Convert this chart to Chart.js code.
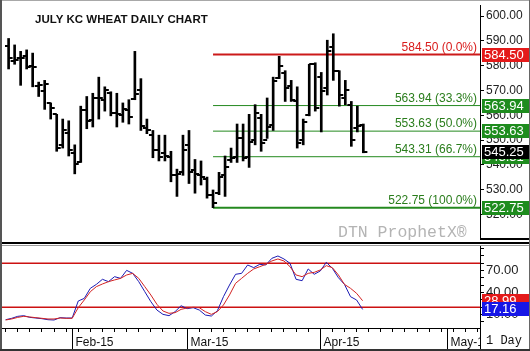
<!DOCTYPE html>
<html>
<head>
<meta charset="utf-8">
<script src="https://cdn.jsdelivr.net/npm/chart.js@4.4.1/dist/chart.umd.min.js"></script>
<style>
  html, body { margin: 0; padding: 0; background: #fff; }
  #wrap { position: relative; width: 530px; height: 351px; overflow: hidden; background: #fff; }
  #wrap canvas { position: absolute; left: 0; }
  #priceChart { top: 0; }
  #stochChart { top: 246px; }
  .ln { position: absolute; }
</style>
</head>
<body>
<div id="wrap">
  <canvas id="priceChart" width="530" height="242"></canvas>
  <canvas id="stochChart" width="530" height="103"></canvas>
  <!-- panel separators and frame -->
  <div class="ln" style="left:0;top:242px;width:530px;height:2px;background:#000"></div>
  <div class="ln" style="left:480px;top:238px;width:50px;height:2px;background:#000"></div>
  <div class="ln" style="left:0;top:245px;width:530px;height:1px;background:#9c9c9c"></div>
  <div class="ln" style="left:0;top:0;width:530px;height:1px;background:#a8a8a8"></div>
  <div class="ln" style="left:0;top:0;width:2px;height:351px;background:#555"></div>
  <div class="ln" style="left:529px;top:0;width:1px;height:351px;background:#666"></div>
  <div class="ln" style="left:0;top:349px;width:530px;height:2px;background:#333"></div>
</div>
<script>
// trading days, Jan 15 - Apr 13 2015
const dates = ['01-15','01-16','01-20','01-21','01-22','01-23','01-26','01-27','01-28','01-29',
  '01-30','02-02','02-03','02-04','02-05','02-06','02-09','02-10','02-11','02-12',
  '02-13','02-17','02-18','02-19','02-20','02-23','02-24','02-25','02-26','02-27',
  '03-02','03-03','03-04','03-05','03-06','03-09','03-10','03-11','03-12','03-13',
  '03-16','03-17','03-18','03-19','03-20','03-23','03-24','03-25','03-26','03-27',
  '03-30','03-31','04-01','04-02','04-06','04-07','04-08','04-09','04-10','04-13'];

const opens = [588,582,583,584,580, 572,570,565,560.4,548, 553,545,541,562,558,
  567,566,569,561,560, 562,566.5,570.2,555,552, 546,545,543,536,537,
  548,538,536,534.5,528, 528.5,536,542,543,551, 543,550,559,550,556,
  575,577,572,565.6,550, 560,580.6,575.4,571,587.7, 578,567,564.3,555,556];
const highs = [591.0,588.4,585.8,586.4,585.1, 573.4,574.1,565.0,560.4,558.5,
  557.8,548.1,563.7,567.6,568.9, 575.4,571.5,569.5,568.9,565.0,
  566.3,585.8,574.8,558.5,553.9, 552.0,552.0,545.5,538.3,552.0,
  553.9,542.2,541.6,535.1,529.9, 537.0,543.6,546.8,556.5,556.5,
  560.4,564.3,560.4,567.0,575.4, 583.8,578.0,574.1,571.5,558.5,
  580.6,581.2,577.3,590.3,592.9, 578.0,574.1,565.6,563.7,556.5];
const lows = [578.7,580.6,572.1,578.7,571.5, 567.6,562.4,558.5,545.5,546.8,
  543.6,536.4,541.0,554.6,555.3, 558.5,561.7,559.8,555.3,557.2,
  556.5,566.3,553.9,552.6,542.9, 541.6,541.6,533.2,527.3,535.8,
  532.5,528.6,531.9,526.6,522.75, 528.0,527.3,541.0,541.0,541.6,
  539.0,548.1,545.5,550.7,553.9, 574.8,565.6,565.6,546.8,548.1,
  559.8,561.7,553.3,568.2,574.1, 563.7,564.3,547.5,553.3,544.9];
const closes = [583.2,582.5,583.2,579.3,579.3, 572.1,572.8,563.1,547,553.9,
  546.1,540.3,562,557.8,567, 567,570.2,561.1,560.4,562.4,
  559.3,568.5,555.9,554,546, 543,543.6,535.8,536.4,546.1,
  537,536.4,535.1,528,524.7, 535.1,539,542.9,550.7,542.9,
  549.4,561.1,548.7,555.3,574, 579.9,570.9,566,549,557.2,
  580.6,563,570,585.8,578, 568,570.2,550,555.9,545.25];

// stochastics (blue = %K, red = %D)
const stochK = [3.1,5,7.7,8.6,6.3,5.4,4.5,3.1,2.7,5.9, 5.4,5.4,28.6,32.2,45.9,51.3,58.2,55,61.8,59.5,
  70.4,66.3,55,41.3,27.7,16.3,10.4,8.6,14.1,22.2, 18.2,19.5,16.3,9.5,8.1,15.4,34.5,50.4,65,66.3,
  77.7,74.1,78.6,77.7,86.8,90,85.9,80,58.2,56.3, 72.3,65,69.5,81.4,73.2,60.4,51.3,34.5,30,17.16];
const stochD = [2.7,4.1,6.3,7.7,6.8,5.9,5,4.1,4.1,5.4, 5,5,19.5,30,41.3,48.2,51.8,55,57.3,59.5,
  64.1,66.3,59.5,48.2,36.8,24.1,15,11.8,12.7,17.2, 19.1,20,19.5,14.1,10.4,14.1,23.2,36.8,52.7,59.5,
  66.3,72.3,75.4,78.6,83.2,85.9,83.2,75.4,64.1,61.8, 66.3,67.7,70.9,76.8,74.1,64.1,51.3,45.9,39.1,28.99];
const stochBands = [80, 20];

// fibonacci retracement from the Mar 6 low
const fibLevels = [584.50, 563.94, 553.63, 543.31, 522.75];
const fibPcts = ['0.0%', '33.3%', '50.0%', '66.7%', '100.0%'];
const fibStart = 34;

const monthIdx = [11, 30, 52, 73];
const monthLabels = ['Feb-15', 'Mar-15', 'Apr-15', 'May-15'];
const priceTicks = [520, 530, 540, 550, 560, 570, 580, 590, 600];
const stochTicks = [0, 10, 20, 30, 40, 50, 60, 70, 80, 90, 100];
const stochLabelled = [10, 40, 70];

const xMin = -0.6, xMax = 78.4;
const RED = '#d91c1c', GREEN = '#24891f', GREEN_TXT = '#2a7d1c', BLUE = '#1c1cb4';
const FONT = '"Liberation Sans", Arial, sans-serif';
const MONO = '"Liberation Mono", "Courier New", monospace';

// small canvases used as point styles for the open / close ticks
function tickImg(left) {
  const c = document.createElement('canvas');
  c.width = 10; c.height = 2;
  const g = c.getContext('2d');
  g.fillStyle = '#000';
  g.fillRect(left ? 1 : 5, 0, 4, 2);
  return c;
}

const xs = dates.map((d, i) => i);

function box(ctx, y, text, bg) {
  ctx.fillStyle = bg;
  ctx.fillRect(482, Math.round(y) - 7, 48, 14);
  ctx.fillStyle = '#fff';
  ctx.textAlign = 'left';
  ctx.textBaseline = 'middle';
  ctx.fillText(text, 484, Math.round(y) + 0.5);
}

const priceDecor = {
  id: 'priceDecor',
  afterDraw(chart) {
    const { ctx, scales: { y } } = chart;
    ctx.save();
    ctx.fillStyle = '#111';
    ctx.font = 'bold 11.5px ' + FONT;
    ctx.textBaseline = 'middle';
    ctx.fillText('JULY KC WHEAT DAILY CHART', 35, 20);

    ctx.fillStyle = '#b4b4b4';
    ctx.font = '16.5px ' + MONO;
    ctx.fillText('DTN ProphetX®', 338, 233);

    ctx.font = '12px ' + FONT;
    ctx.textAlign = 'right';
    fibLevels.forEach((v, i) => {
      ctx.fillStyle = i === 0 ? RED : GREEN_TXT;
      ctx.fillText(v.toFixed(2) + ' (' + fibPcts[i] + ')', 477, y.getPixelForValue(v) - 7);
    });

    ctx.font = '13px ' + FONT;
    [0, 1, 2, 3, 4].forEach(i => {
      box(ctx, y.getPixelForValue(fibLevels[i]), fibLevels[i].toFixed(2), i === 0 ? '#e41a1a' : '#1e8c1e');
    });
    const last = closes[closes.length - 1];
    box(ctx, y.getPixelForValue(last), last.toFixed(2), '#000');
    ctx.restore();
  }
};

const stochDecor = {
  id: 'stochDecor',
  afterDraw(chart) {
    const { ctx, chartArea, scales: { x, y } } = chart;
    const h = chart.height;
    ctx.save();
    ctx.strokeStyle = '#000';
    ctx.lineWidth = 1;
    ctx.beginPath();
    ctx.moveTo(480.5, chartArea.bottom);
    ctx.lineTo(480.5, h);
    ctx.stroke();

    ctx.beginPath();
    ctx.rect(0, 0, 480, h);
    ctx.clip();
    ctx.font = '12px ' + FONT;
    ctx.fillStyle = '#111';
    ctx.textBaseline = 'alphabetic';
    monthIdx.forEach((m, i) => {
      const px = Math.round(x.getPixelForValue(m)) + 0.5;
      ctx.beginPath();
      ctx.moveTo(px, chartArea.bottom);
      ctx.lineTo(px, h);
      ctx.stroke();
      ctx.fillText(monthLabels[i], px + 3, chartArea.bottom + 18);
    });
    ctx.restore();

    ctx.save();
    ctx.fillStyle = '#111';
    ctx.font = '12px ' + MONO;
    ctx.textBaseline = 'alphabetic';
    ctx.fillText('1 Day', 486, chartArea.bottom + 16);
    ctx.font = '13px ' + FONT;
    box(ctx, y.getPixelForValue(stochD[stochD.length - 1]), stochD[stochD.length - 1].toFixed(2), '#e41a1a');
    box(ctx, y.getPixelForValue(stochK[stochK.length - 1]), stochK[stochK.length - 1].toFixed(2), '#1616e6');
    ctx.restore();
  }
};

function yAxisFit(scale) {
  scale.width = 50;
  scale.paddingTop = 0;
  scale.paddingBottom = 0;
}

new Chart(document.getElementById('priceChart'), {
  type: 'bar',
  data: {
    datasets: [
      {
        label: 'range',
        data: xs.map(i => ({ x: i, y: [lows[i], highs[i]] })),
        backgroundColor: '#000',
        borderWidth: 0,
        barThickness: 2,
        grouped: false
      },
      {
        type: 'scatter',
        label: 'open',
        data: xs.map(i => ({ x: i, y: opens[i] })),
        pointStyle: tickImg(true),
        pointRadius: 3
      },
      {
        type: 'scatter',
        label: 'close',
        data: xs.map(i => ({ x: i, y: closes[i] })),
        pointStyle: tickImg(false),
        pointRadius: 3
      },
      ...fibLevels.map((v, i) => ({
        type: 'line',
        label: fibPcts[i],
        data: [{ x: fibStart, y: v }, { x: xMax, y: v }],
        borderColor: i === 0 ? '#cc1a1a' : GREEN,
        borderWidth: (i === 0 || i === 4) ? 2 : 1,
        pointRadius: 0
      }))
    ]
  },
  options: {
    responsive: false,
    animation: false,
    devicePixelRatio: 1,
    layout: { padding: { left: 2, top: 2, right: 0, bottom: 0 } },
    plugins: { legend: { display: false }, tooltip: { enabled: false } },
    scales: {
      x: {
        type: 'linear', min: xMin, max: xMax, offset: false,
        display: false,
        grid: { offset: false }
      },
      y: {
        position: 'right',
        min: 510.93, max: 604.5,
        afterBuildTicks: s => { s.ticks = priceTicks.map(v => ({ value: v })); },
        afterFit: yAxisFit,
        border: { display: true, color: '#000', width: 1 },
        grid: { drawOnChartArea: false, tickLength: 4, color: '#000' },
        ticks: {
          autoSkip: false,
          padding: 2,
          color: '#222',
          font: { family: FONT, size: 12 },
          callback: v => v.toFixed(2)
        }
      }
    }
  },
  plugins: [priceDecor]
});

new Chart(document.getElementById('stochChart'), {
  type: 'line',
  data: {
    datasets: [
      {
        label: '%D',
        data: xs.map(i => ({ x: i, y: stochD[i] })),
        borderColor: '#d22222', borderWidth: 1, pointRadius: 0, tension: 0
      },
      {
        label: '%K',
        data: xs.map(i => ({ x: i, y: stochK[i] })),
        borderColor: BLUE, borderWidth: 1, pointRadius: 0, tension: 0
      },
      ...stochBands.map(v => ({
        label: 'band ' + v,
        data: [{ x: xMin, y: v }, { x: xMax, y: v }],
        borderColor: '#cc1111', borderWidth: 1.5, pointRadius: 0
      }))
    ]
  },
  options: {
    responsive: false,
    animation: false,
    devicePixelRatio: 1,
    layout: { padding: { left: 2, top: 0, right: 0, bottom: 0 } },
    plugins: { legend: { display: false }, tooltip: { enabled: false } },
    scales: {
      x: {
        type: 'linear', min: xMin, max: xMax, offset: false,
        afterBuildTicks: s => {
          const t = [];
          for (let i = 0; i <= xMax; i += 2) t.push({ value: i });
          s.ticks = t;
        },
        afterFit: s => { s.height = 21; s.paddingLeft = 0; s.paddingRight = 0; },
        border: { display: true, color: '#000', width: 1 },
        grid: { drawOnChartArea: false, tickLength: 4, color: '#000', offset: false },
        ticks: { display: false, autoSkip: false }
      },
      y: {
        position: 'right',
        min: -8.2, max: 103.6,
        afterBuildTicks: s => { s.ticks = stochTicks.map(v => ({ value: v })); },
        afterFit: yAxisFit,
        border: { display: true, color: '#000', width: 1 },
        grid: { drawOnChartArea: false, tickLength: 4, color: '#000' },
        ticks: {
          autoSkip: false,
          padding: 2,
          color: '#222',
          font: { family: FONT, size: 13 },
          callback: v => stochLabelled.includes(v) ? v.toFixed(2) : ''
        }
      }
    }
  },
  plugins: [stochDecor]
});
</script>
</body>
</html>
